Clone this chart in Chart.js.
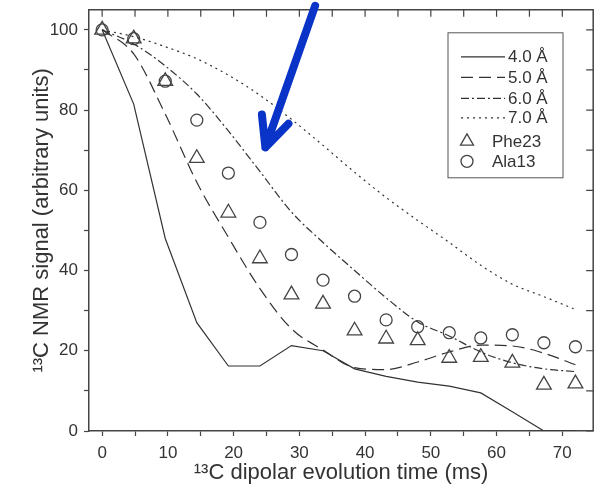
<!DOCTYPE html>
<html lang="en">
<head>
  <meta charset="UTF-8">
  <title>13C dipolar evolution</title>
  <script src="https://cdn.jsdelivr.net/npm/chart.js"></script>
  <style>
    html, body { margin: 0; padding: 0; background: #fff; }
    #wrap { width: 603px; height: 498px; position: relative; }
  </style>
</head>
<body>
<div id="wrap"><canvas id="chart"></canvas></div>
<script>
  // dipolar evolution times (ms)
  const times = [0, 4.8, 9.6, 14.4, 19.2, 24, 28.8, 33.6, 38.4, 43.2, 48, 52.8, 57.6, 62.4, 67.2, 72];
  // simulated curves for each distance
  const fit40 = [100, 81.5, 48, 27, 16.2, 16.2, 21.3, 20, 15.5, 13.6, 12.2, 11.2, 9.5, 4.8, 0, 0];
  const fit50 = [100, 94, 79, 62, 48.3, 35.5, 25.5, 20.2, 15.8, 15.3, 17.2, 19.7, 21.4, 21.2, 19.4, 16.5];
  const fit60 = [100, 96.5, 91, 84, 74.8, 64.7, 54.6, 47, 40, 33.2, 27.2, 23.7, 19.7, 17, 15.5, 14.8];
  const fit70 = [100, 98.3, 95.8, 92.8, 88.7, 83.7, 77.7, 71.2, 64.5, 58.2, 52.5, 47, 41.3, 36.6, 33.5, 30.3];
  // measured
  const phe23 = [100, 97.8, 87.2, 68, 54.4, 43, 34, 31.7, 25, 23, 22.6, 18.2, 18.4, 17, 11.5, 11.8];
  const ala13 = [100, 97.8, 87.2, 77.5, 64.3, 52, 44, 37.6, 33.6, 27.7, 26, 24.5, 23.2, 24, 22, 21];
  const seriesLabels = ['4.0 Å', '5.0 Å', '6.0 Å', '7.0 Å', 'Phe23', 'Ala13'];
  // blue arrow, in data units: tail, tip, wing, wing
  const arrowPts = [[32.4, 106.0], [24.83, 70.7], [24.3, 78.9], [28.34, 76.6]];

  const ink = '#333';
  const pts = arr => times.map((t, i) => ({ x: t, y: arr[i] }));

  const lineSet = (label, arr, dash, smooth) => ({
    label, data: pts(arr), showLine: true, borderColor: ink, borderWidth: 1.2, borderDash: dash,
    pointRadius: 0, fill: false, tension: 0,
    cubicInterpolationMode: smooth ? 'monotone' : 'default'
  });
  const markSet = (label, arr, style, r) => ({
    label, data: pts(arr), showLine: false, pointStyle: style, pointRadius: r,
    pointBorderColor: '#444', pointBackgroundColor: 'rgba(0,0,0,0)', pointBorderWidth: 1.3
  });

  const frame = {
    id: 'frame',
    afterDraw(chart) {
      const { ctx, chartArea: a, scales: { x, y } } = chart;
      ctx.save();
      ctx.strokeStyle = '#444';
      ctx.lineWidth = 1.5;
      ctx.beginPath();
      ctx.moveTo(a.left, a.top); ctx.lineTo(a.right, a.top); ctx.lineTo(a.right, a.bottom);
      ctx.stroke();
      ctx.lineWidth = 1.2;
      ctx.beginPath();
      x.ticks.forEach(t => { const px = x.getPixelForValue(t.value); ctx.moveTo(px, a.top); ctx.lineTo(px, a.top + 7); });
      y.ticks.forEach(t => { const py = y.getPixelForValue(t.value); ctx.moveTo(a.right, py); ctx.lineTo(a.right - 7, py); });
      ctx.stroke();

      // legend
      const sets = chart.data.datasets;
      const bx = a.left + 359, by = a.top + 23;
      ctx.lineWidth = 1;
      ctx.strokeStyle = '#555';
      ctx.strokeRect(bx, by, 115, 145);
      ctx.font = '17px "Liberation Sans", Arial, sans-serif';
      ctx.fillStyle = '#333';
      ctx.textBaseline = 'middle';
      const rows = [24, 44.5, 65.5, 85, 108.5, 128.5];
      sets.forEach((ds, i) => {
        const ry = by + rows[i];
        if (ds.showLine === false) {
          drawMark(ctx, ds.pointStyle, bx + 19, ry, ds.pointStyle === 'triangle' ? 7.5 : 6);
          ctx.fillText(ds.label, bx + 44, ry + 1);
        } else {
          ctx.save();
          ctx.strokeStyle = ink; ctx.lineWidth = 1.2; ctx.setLineDash(ds.borderDash || []);
          ctx.beginPath(); ctx.moveTo(bx + 13, ry); ctx.lineTo(bx + 57, ry); ctx.stroke();
          ctx.restore();
          ctx.fillText(ds.label, bx + 60, ry + 1);
        }
      });

      // arrow
      const ap = arrowPts.map(p => [x.getPixelForValue(p[0]), y.getPixelForValue(p[1])]);
      ctx.strokeStyle = '#0a33c8';
      ctx.lineWidth = 8;
      ctx.lineCap = 'round';
      ctx.lineJoin = 'round';
      ctx.beginPath();
      ctx.moveTo(ap[0][0], ap[0][1]); ctx.lineTo(ap[1][0], ap[1][1]);
      ctx.moveTo(ap[2][0], ap[2][1]); ctx.lineTo(ap[1][0], ap[1][1]); ctx.lineTo(ap[3][0], ap[3][1]);
      ctx.stroke();
      ctx.restore();
    }
  };

  function drawMark(ctx, style, cx, cy, r) {
    ctx.save();
    ctx.strokeStyle = '#444'; ctx.lineWidth = 1.3;
    ctx.beginPath();
    if (style === 'triangle') {
      ctx.moveTo(cx, cy - r);
      ctx.lineTo(cx + r * 0.866, cy + r * 0.5);
      ctx.lineTo(cx - r * 0.866, cy + r * 0.5);
      ctx.closePath();
    } else {
      ctx.arc(cx, cy, r, 0, Math.PI * 2);
    }
    ctx.stroke();
    ctx.restore();
  }

  const tickFont = { family: '"Liberation Sans", Arial, sans-serif', size: 17 };
  const titleFont = { family: '"Liberation Sans", Arial, sans-serif', size: 22 };

  new Chart(document.getElementById('chart'), {
    type: 'scatter',
    data: {
      datasets: [
        lineSet(seriesLabels[0], fit40, [], false),
        lineSet(seriesLabels[1], fit50, [12, 6], true),
        lineSet(seriesLabels[2], fit60, [8, 3, 2, 3], true),
        lineSet(seriesLabels[3], fit70, [2, 4], true),
        markSet(seriesLabels[4], phe23, 'triangle', 8.5),
        markSet(seriesLabels[5], ala13, 'circle', 6)
      ]
    },
    options: {
      responsive: true,
      maintainAspectRatio: false,
      animation: false,
      layout: { padding: { top: 9, right: 6, left: 0, bottom: 0 } },
      plugins: { legend: { display: false }, tooltip: { enabled: false } },
      scales: {
        x: {
          type: 'linear', min: -2, max: 74.7,
          afterBuildTicks: s => { s.ticks = [0, 5, 10, 15, 20, 25, 30, 35, 40, 45, 50, 55, 60, 65, 70].map(v => ({ value: v })); },
          afterFit: s => { s.height = 67; s.paddingLeft = 0; s.paddingRight = 0; },
          ticks: { autoSkip: false, maxRotation: 0, padding: 7, color: '#333', font: tickFont,
                   callback: v => (v % 10 === 0 ? v : '') },
          grid: { drawOnChartArea: false, drawTicks: true, tickLength: 5, tickColor: '#444', tickWidth: 1.2 },
          border: { display: true, color: '#444', width: 1.5 },
          title: { display: true, text: '¹³C dipolar evolution time (ms)', color: '#333', font: titleFont,
                   padding: { top: 0, bottom: 12 } }
        },
        y: {
          type: 'linear', min: 0, max: 105,
          afterBuildTicks: s => { s.ticks = [0, 10, 20, 30, 40, 50, 60, 70, 80, 90, 100].map(v => ({ value: v })); },
          afterFit: s => { s.width = 89; s.paddingTop = 0; s.paddingBottom = 0; },
          ticks: { autoSkip: false, padding: 6, color: '#333', font: tickFont,
                   callback: v => (v % 20 === 0 ? v : '') },
          grid: { drawOnChartArea: false, drawTicks: true, tickLength: 5, tickColor: '#444', tickWidth: 1.2 },
          border: { display: true, color: '#444', width: 1.5 },
          title: { display: true, text: '¹³C NMR signal (arbitrary units)', color: '#333', font: titleFont,
                   padding: { top: 29, bottom: 0 } }
        }
      }
    },
    plugins: [frame]
  });
</script>
</body>
</html>
